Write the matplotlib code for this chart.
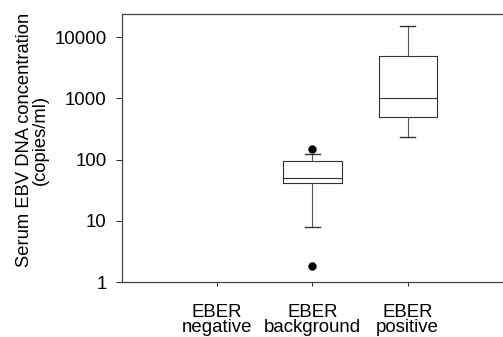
import matplotlib.pyplot as plt

plt.rcParams['font.family'] = ['Liberation Sans', 'DejaVu Sans']

# Data (copies/ml)
groups = ['EBER\nnegative', 'EBER\nbackground', 'EBER\npositive']
positions = [2, 3]
q1 = [42, 490]
med = [50, 1000]
q3 = [96, 4900]
whislo = [8, 230]
whishi = [125, 15000]
fliers = [[150, 1.8], []]

stats = []
for i in range(len(positions)):
    stats.append(dict(q1=q1[i], med=med[i], q3=q3[i],
                      whislo=whislo[i], whishi=whishi[i], fliers=fliers[i]))

fig = plt.figure(figsize=(5.03, 3.37), dpi=100)
ax = fig.add_axes([0.2425, 0.1632, 0.7575, 0.7953])

lw = 0.8
ax.bxp(stats, positions=positions, widths=0.61, showfliers=True,
       boxprops=dict(color='#333333', linewidth=lw),
       medianprops=dict(color='#333333', linewidth=lw),
       whiskerprops=dict(color='#555555', linewidth=lw),
       capprops=dict(color='#333333', linewidth=1.0),
       flierprops=dict(marker='o', markerfacecolor='black',
                       markeredgecolor='black', markersize=5),
       capwidths=0.16)

ax.set_yscale('log')
ax.set_ylim(1, 24000)
ax.set_xlim(0, 4)
ax.set_yticks([1, 10, 100, 1000, 10000])
ax.set_yticklabels(['1', '10', '100', '1000', '10000'])
ax.minorticks_off()
ax.set_xticks([1, 2, 3])
ax.set_xticklabels(groups, fontsize=13.4, linespacing=0.85)
ax.tick_params(axis='y', labelsize=13.4, length=4, width=0.6, pad=7)
ax.tick_params(axis='x', length=3, width=0.6, pad=13)

for s in ['left', 'top', 'bottom']:
    ax.spines[s].set_linewidth(0.9)
    ax.spines[s].set_color('#444444')
ax.spines['right'].set_visible(False)

ax.set_ylabel('Serum EBV DNA concentration\n(copies/ml)', fontsize=13.2,
              linespacing=0.85, va='center')
ax.yaxis.set_label_coords(-0.235, 0.53)

fig.savefig('out.png', dpi=100)
